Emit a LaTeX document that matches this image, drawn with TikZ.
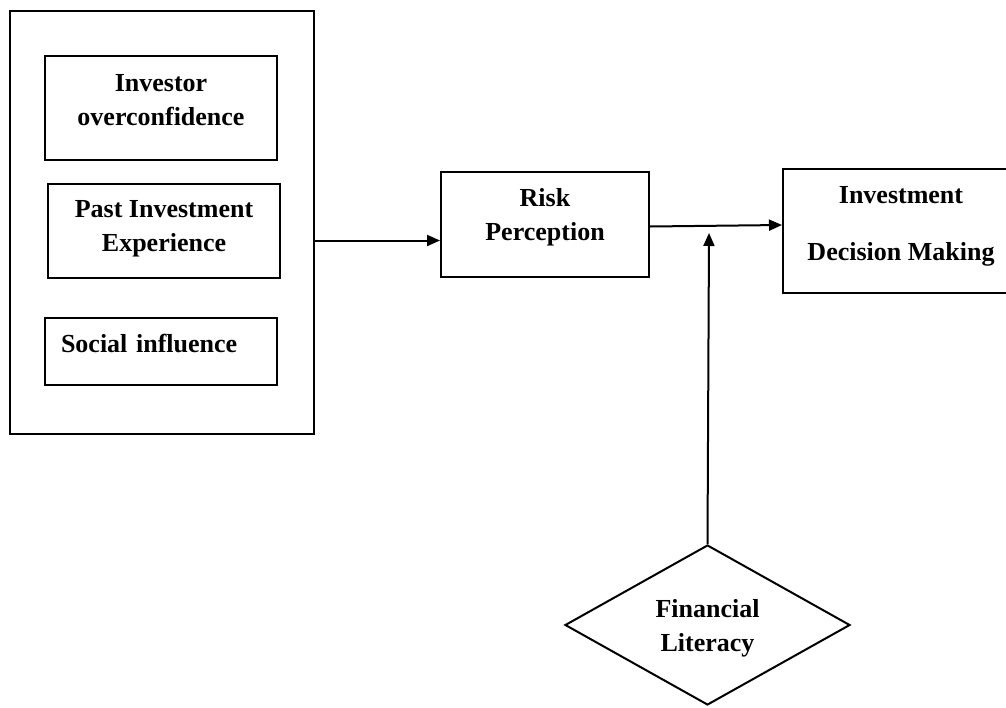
\documentclass[tikz,border=0pt]{standalone}
\usepackage{fontspec}
\setmainfont{Liberation Serif}
\usetikzlibrary{shapes.geometric,arrows.meta}
\newcommand{\lw}{2pt}

\begin{document}
\begin{tikzpicture}[x=1pt, y=-1pt,
    box/.style={draw, rectangle, line width=\lw, align=center, inner sep=0pt, font=\fontsize{26}{34}\selectfont\bfseries},
    rhomb/.style={draw, diamond, line width=\lw, align=center, inner sep=0pt, minimum width=285pt, minimum height=160pt, font=\fontsize{26}{34}\selectfont\bfseries},
    arr/.style={-{Triangle[length=13pt,width=11pt]}, line width=\lw}]
    \useasboundingbox[fill=white] (0,0) rectangle (1006,707);

    % Left group
    \node[box, minimum width=304pt, minimum height=423pt] (group) at (162,222.5) {};
    \node[box, minimum width=232pt, minimum height=104pt, text depth=17pt] (overconf) at (161,108) {Investor\\overconfidence};
    \node[box, minimum width=232pt, minimum height=94pt, text depth=10pt] (pastexp) at (164,231) {Past Investment\\Experience};
    \node[box, minimum width=232pt, minimum height=67pt, text depth=16pt, text width=200pt, align=left] (social) at (161,351.5) {Social influence};

    % Mediator and outcome
    \node[box, minimum width=208pt, minimum height=105pt, text depth=20pt] (risk) at (545,224.5) {Risk\\Perception};
    \node[box, minimum width=236pt, minimum height=124pt, text depth=16pt] (decision) at (901,231) {Investment\\[23pt]Decision Making};

    % Moderator
    \node[rhomb, text depth=-8pt] (literacy) at (707.5,625) {Financial\\Literacy};
    \coordinate (modpoint) at (709,233);

    \draw[arr] ([yshift=-16pt]risk.west -| group.east) -- ([yshift=-16pt]risk.west);
    \draw[arr] ([yshift=-2pt]risk.east) -- ([yshift=6pt]decision.west);
    \draw[arr] (literacy.north) -- (modpoint);
\end{tikzpicture}
\end{document}
